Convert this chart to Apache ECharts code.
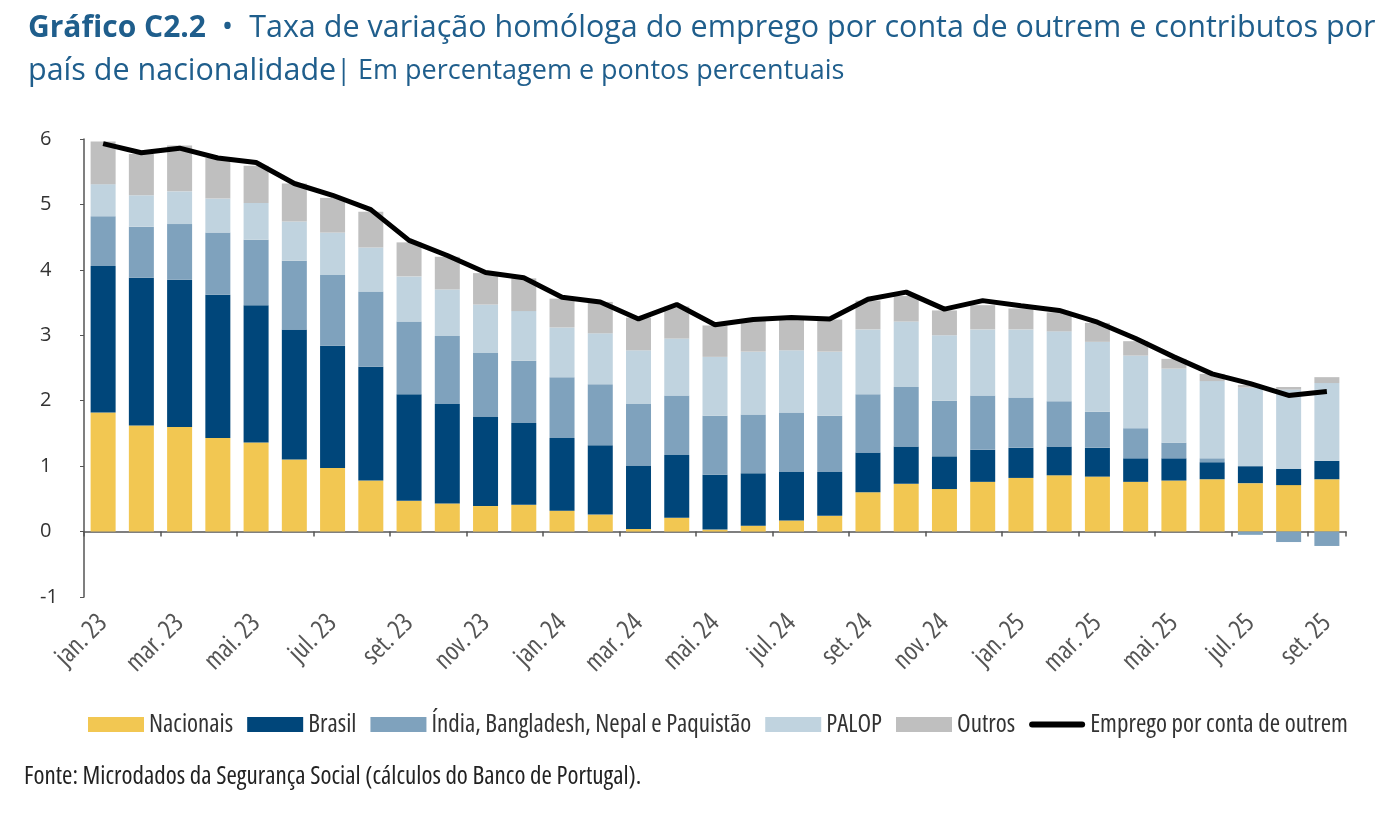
<!DOCTYPE html>
<html><head><meta charset="utf-8">
<script src="https://cdn.jsdelivr.net/npm/echarts@6/dist/echarts.min.js"></script>
<style>html,body{margin:0;padding:0;background:#fff}#c{width:1397px;height:817px}</style>
</head><body><div id="c"></div>
<script>
const categories = ['jan. 23','fev. 23','mar. 23','abr. 23','mai. 23','jun. 23','jul. 23','ago. 23','set. 23','out. 23','nov. 23','dez. 23',
'jan. 24','fev. 24','mar. 24','abr. 24','mai. 24','jun. 24','jul. 24','ago. 24','set. 24','out. 24','nov. 24','dez. 24',
'jan. 25','fev. 25','mar. 25','abr. 25','mai. 25','jun. 25','jul. 25','ago. 25','set. 25'];
const nacionais = [1.82,1.62,1.60,1.43,1.36,1.10,0.97,0.78,0.47,0.43,0.39,0.41,0.32,0.26,0.04,0.21,0.03,0.09,0.17,0.24,0.60,0.73,0.65,0.76,0.82,0.86,0.84,0.76,0.78,0.80,0.74,0.71,0.80];
const brasil = [2.24,2.26,2.25,2.19,2.10,1.99,1.87,1.74,1.63,1.52,1.37,1.25,1.11,1.06,0.97,0.96,0.84,0.80,0.74,0.67,0.61,0.57,0.50,0.49,0.46,0.44,0.44,0.36,0.34,0.26,0.26,0.25,0.28];
const india = [0.76,0.78,0.85,0.95,1.00,1.05,1.08,1.15,1.11,1.04,0.97,0.95,0.93,0.93,0.94,0.91,0.90,0.90,0.91,0.86,0.89,0.91,0.85,0.83,0.77,0.69,0.55,0.46,0.24,0.06,-0.05,-0.16,-0.22];
const palop = [0.49,0.48,0.50,0.52,0.56,0.60,0.65,0.67,0.69,0.71,0.74,0.76,0.76,0.78,0.82,0.87,0.90,0.96,0.95,0.98,0.99,1.00,1.00,1.01,1.04,1.07,1.07,1.11,1.13,1.18,1.20,1.21,1.19];
const outros = [0.65,0.63,0.70,0.62,0.57,0.58,0.53,0.55,0.52,0.50,0.48,0.50,0.44,0.48,0.50,0.49,0.48,0.48,0.50,0.49,0.44,0.39,0.38,0.37,0.32,0.29,0.29,0.22,0.15,0.11,0.04,0.04,0.09];
const emprego = [5.93,5.79,5.86,5.71,5.64,5.32,5.14,4.92,4.45,4.22,3.96,3.88,3.58,3.51,3.25,3.47,3.16,3.24,3.27,3.25,3.55,3.66,3.40,3.53,3.45,3.38,3.20,2.95,2.67,2.41,2.26,2.08,2.14];

const OS = '"Open Sans",sans-serif';
const COND = 'condensed'; // font-stretch keyword inserted via fontWeight slot
const chart = echarts.init(document.getElementById('c'));
function bar(name, data, color){
  return {name, type:'bar', stack:'t', data, barWidth:25, itemStyle:{color}, animation:false};
}
chart.setOption({
  animation:false,
  title:{
    left:23, top:2,
    text:'{b|Gráfico C2.2}{n|  •  Taxa de variação homóloga do emprego por conta de outrem e contributos por}\n{n|país de nacionalidade}{s|| Em percentagem e pontos percentuais}',
    textStyle:{
      fontWeight:'normal',
      rich:{
        b:{fontFamily:OS,fontWeight:'bold',fontSize:30,color:'#1F5E8C',lineHeight:43},
        n:{fontFamily:OS,fontWeight:'normal',fontSize:30.5,color:'#1F5E8C',lineHeight:43},
        s:{fontFamily:OS,fontWeight:'normal',fontSize:27,color:'#1F5E8C',lineHeight:43}
      }
    }
  },
  grid:{left:84, right:51, top:139, bottom:220, containLabel:false},
  legend:{
    left:83, top:707, itemWidth:56, itemHeight:15, itemGap:14, icon:'rect',
    textStyle:{fontFamily:OS, fontWeight:COND, fontSize:25, color:'#333'},
    data:['Nacionais','Brasil','Índia, Bangladesh, Nepal e Paquistão','PALOP','Outros',
      {name:'Emprego por conta de outrem', icon:'path://M3,0 L53,0 A3,3 0 0 1 53,6 L3,6 A3,3 0 0 1 3,0 Z'}]
  },
  graphic:[{type:'text', left:24, top:764, style:{text:'Fonte: Microdados da Segurança Social (cálculos do Banco de Portugal).', fontFamily:OS, fontWeight:COND, fontSize:25, fill:'#222'}}],
  xAxis:[
    {type:'category', data:categories, position:'bottom',
      axisLine:{show:false, onZero:false}, axisTick:{show:false},
      axisLabel:{interval:1, rotate:45, margin:22, fontFamily:OS, fontWeight:COND, fontSize:26, color:'#555'}},
    {type:'category', data:categories, position:'bottom',
      axisLine:{show:true, onZero:true, lineStyle:{color:'#555', width:1.5}},
      axisTick:{show:true, length:5, lineStyle:{color:'#555', width:1.5}},
      axisLabel:{show:false}}
  ],
  yAxis:{type:'value', min:-1, max:6, interval:1,
    axisLine:{show:true, lineStyle:{color:'#555', width:1.5}},
    axisTick:{show:true, length:4, lineStyle:{color:'#555'}},
    splitLine:{show:false},
    axisLabel:{margin:44, align:'left', fontFamily:OS, fontSize:20, color:'#333'}},
  series:[
    bar('Nacionais', nacionais, '#F2C752'),
    bar('Brasil', brasil, '#00467A'),
    bar('Índia, Bangladesh, Nepal e Paquistão', india, '#7FA2BD'),
    bar('PALOP', palop, '#C0D3DF'),
    bar('Outros', outros, '#BFBFBF'),
    {name:'Emprego por conta de outrem', type:'line', data:emprego, symbol:'none',
      lineStyle:{color:'#000', width:5}, itemStyle:{color:'#000'}, z:10}
  ]
});
</script></body></html>
